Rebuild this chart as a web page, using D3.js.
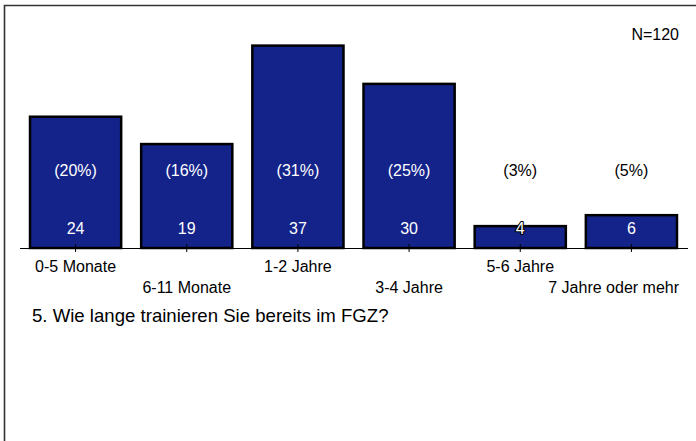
<!DOCTYPE html>
<html lang="de">
<head>
<meta charset="UTF-8">
<title>FGZ</title>
<style>
  body { margin: 0; background: #fff; }
  text { font-family: "Liberation Sans", Arial, sans-serif; }
</style>
</head>
<body>
<script src="https://d3js.org/d3.v7.min.js"></script>
<script>
    // Data
    const categories = ["0-5 Monate", "6-11 Monate", "1-2 Jahre", "3-4 Jahre", "5-6 Jahre", "7 Jahre oder mehr"];
    const counts = [24, 19, 37, 30, 4, 6];
    const percents = ["(20%)", "(16%)", "(31%)", "(25%)", "(3%)", "(5%)"];
    const title = "5. Wie lange trainieren Sie bereits im FGZ?";
    const nLabel = "N=120";

    const width = 696, height = 441;
    const baseY = 248;
    const rightEdge = 679;

    const svg = d3.select("body").append("svg")
        .attr("width", width)
        .attr("height", height);

    // frame (left and top edges)
    svg.append("path")
        .attr("d", "M4.5," + height + " L4.5,5.5 L" + width + ",5.5")
        .attr("fill", "none")
        .attr("stroke", "#333")
        .attr("stroke-width", 1.6);

    let x = d3.scaleBand()
        .domain(categories)
        .range([20, 687])
        .paddingInner(0.18)
        .paddingOuter(0.09);

    let y = d3.scaleLinear()
        .domain([0, 40])
        .range([baseY, baseY - 218.8]);

    // bars
    svg.selectAll("rect.bar")
        .data(counts)
        .enter()
        .append("rect")
        .attr("class", "bar")
        .attr("x", (d, i) => x(categories[i]))
        .attr("y", d => y(d))
        .attr("width", x.bandwidth())
        .attr("height", d => y(0) - y(d))
        .attr("fill", "#14238a")
        .attr("stroke", "#000")
        .attr("stroke-width", 2.5);

    // axis line + ticks
    const axis = svg.append("g")
        .attr("transform", "translate(0," + baseY + ")")
        .call(d3.axisBottom(x).tickSize(4).tickFormat(""));
    axis.select(".domain").attr("d", "M20,0.5H688").attr("stroke", "#000");
    axis.selectAll(".tick line").attr("y1", -4).attr("y2", 4).attr("stroke", "#000");

    // category labels, staggered in two rows, kept inside the right edge
    svg.selectAll("text.cat")
        .data(categories)
        .enter()
        .append("text")
        .attr("class", "cat")
        .attr("x", d => x(d) + x.bandwidth() / 2)
        .attr("y", (d, i) => i % 2 === 0 ? 272 : 293)
        .attr("text-anchor", "middle")
        .attr("font-size", 16)
        .attr("fill", "#000")
        .text(d => d)
        .each(function () {
            const len = this.getComputedTextLength();
            const cx = +this.getAttribute("x");
            if (cx + len / 2 > rightEdge) this.setAttribute("x", rightEdge - len / 2);
        });

    // count labels (outlined when they stick out of a short bar)
    svg.selectAll("text.val")
        .data(counts)
        .enter()
        .append("text")
        .attr("class", "val")
        .attr("x", (d, i) => x(categories[i]) + x.bandwidth() / 2)
        .attr("y", 233.5)
        .attr("text-anchor", "middle")
        .attr("font-size", 16)
        .attr("fill", "#fff")
        .attr("stroke", d => y(d) > 222 ? "#000" : "none")
        .attr("stroke-width", 2.2)
        .attr("stroke-linejoin", "round")
        .attr("paint-order", "stroke")
        .text(d => d);

    // percent labels
    svg.selectAll("text.pct")
        .data(percents)
        .enter()
        .append("text")
        .attr("class", "pct")
        .attr("x", (d, i) => x(categories[i]) + x.bandwidth() / 2)
        .attr("y", 175.5)
        .attr("text-anchor", "middle")
        .attr("font-size", 16)
        .attr("fill", (d, i) => y(counts[i]) < 160 ? "#fff" : "#000")
        .text(d => d);

    svg.append("text")
        .attr("x", rightEdge)
        .attr("y", 39.5)
        .attr("text-anchor", "end")
        .attr("font-size", 16)
        .text(nLabel);

    svg.append("text")
        .attr("x", 32)
        .attr("y", 322)
        .attr("font-size", 18.6)
        .text(title);
</script>
</body>
</html>
